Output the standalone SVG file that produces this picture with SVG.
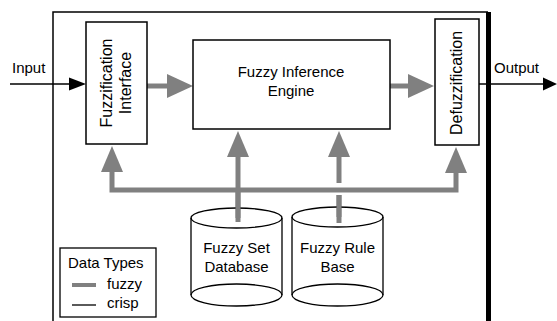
<svg xmlns="http://www.w3.org/2000/svg" width="557" height="321" viewBox="0 0 557 321">
<style>
text{font-family:"Liberation Sans",Arial,sans-serif;font-size:15px;fill:#000}
.c{text-anchor:middle}
.v{font-size:16px}
.box{fill:#fff;stroke:#000;stroke-width:1.5}
.fz{stroke:#808080;stroke-width:5;fill:none}
.fh{fill:#808080}
.cr{stroke:#000;stroke-width:1.5;fill:none}
</style>
<rect width="557" height="321" fill="#fff"/>
<g id="frame">
<path d="M53,321 V12 H488" fill="none" stroke="#000" stroke-width="1.5"/>
<rect x="486" y="12" width="5" height="309" fill="#000"/>
</g>
<g id="connectors">
<line class="cr" x1="10" y1="84" x2="72" y2="84"/>
<polygon points="69,77.5 86,84 69,90.5" fill="#000"/>
<line class="cr" x1="479" y1="84" x2="546" y2="84"/>
<polygon points="543,77.5 557,84 543,90.5" fill="#000"/>
<line class="fz" x1="147" y1="86" x2="170" y2="86"/>
<polygon class="fh" points="167,74 193,86 167,98"/>
<line class="fz" x1="390" y1="86" x2="411" y2="86"/>
<polygon class="fh" points="408,74 434,86 408,98"/>
<path class="fz" d="M112,170 V190 H456 V170"/>
<polygon class="fh" points="101,172 112,146 123,172"/>
<polygon class="fh" points="445,173 456,147 467,173"/>
<line class="fz" x1="238" y1="222" x2="238" y2="155"/>
<polygon class="fh" points="227,157 238,131 249,157"/>
<line class="fz" x1="339" y1="183" x2="339" y2="155"/>
<line class="fz" x1="339" y1="195" x2="339" y2="223"/>
<polygon class="fh" points="328,157 339,131 350,157"/>
</g>
<g id="fuzzification">
<rect class="box" x="86" y="22" width="61" height="122"/>
<text class="c v" transform="translate(112,83) rotate(-90)">Fuzzification</text>
<text class="c v" transform="translate(131,83) rotate(-90)">Interface</text>
</g>
<g id="engine">
<rect class="box" x="193" y="40" width="197" height="89"/>
<text class="c" x="291" y="77">Fuzzy Inference</text>
<text class="c" x="291" y="96">Engine</text>
</g>
<g id="defuzzification">
<rect class="box" x="435" y="19" width="44" height="126"/>
<text class="c v" transform="translate(462,83) rotate(-90)">Defuzzification</text>
</g>
<g id="input-label"><text x="12" y="73">Input</text></g>
<g id="output-label"><text x="494" y="73">Output</text></g>
<g id="fuzzy-set-db">
<path d="M191,218 V295 A45.5,11 0 0 0 282,295 V218" fill="#fff" stroke="#000" stroke-width="1.3"/>
<ellipse cx="236.5" cy="218" rx="45.5" ry="10" fill="none" stroke="#000" stroke-width="1.3"/>
<path d="M191,295 A45.5,11 0 0 1 282,295" fill="none" stroke="#000" stroke-width="1.3"/>
<line class="fz" x1="238" y1="190" x2="238" y2="222"/>
<text class="c" x="236.5" y="253">Fuzzy Set</text>
<text class="c" x="236.5" y="272">Database</text>
</g>
<g id="fuzzy-rule-base">
<path d="M292,217 V295 A45.5,11 0 0 0 383,295 V217" fill="#fff" stroke="#000" stroke-width="1.3"/>
<ellipse cx="337.5" cy="217" rx="45.5" ry="10" fill="none" stroke="#000" stroke-width="1.3"/>
<path d="M292,295 A45.5,11 0 0 1 383,295" fill="none" stroke="#000" stroke-width="1.3"/>
<line class="fz" x1="339" y1="195" x2="339" y2="223"/>
<text class="c" x="337.5" y="253">Fuzzy Rule</text>
<text class="c" x="337.5" y="272">Base</text>
</g>
<g id="legend">
<rect x="60" y="248" width="96" height="69" fill="#fff" stroke="#000" stroke-width="1.3"/>
<text x="68" y="268">Data Types</text>
<line x1="72" y1="285" x2="96" y2="285" stroke="#808080" stroke-width="4"/>
<text x="107" y="289">fuzzy</text>
<line x1="72" y1="305" x2="96" y2="305" stroke="#000" stroke-width="1.3"/>
<text x="107" y="308">crisp</text>
</g>
</svg>
